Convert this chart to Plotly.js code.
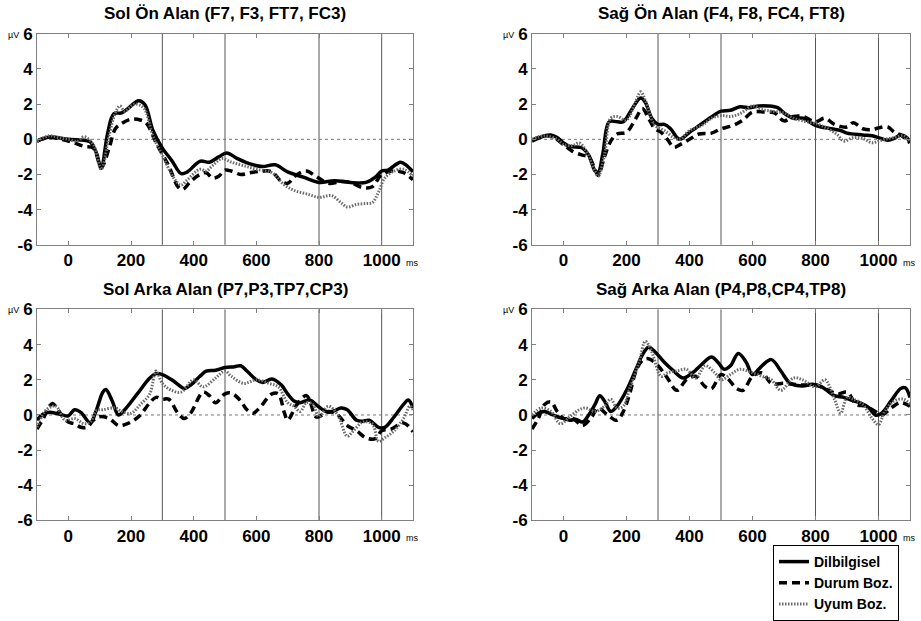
<!DOCTYPE html>
<html>
<head>
<meta charset="utf-8">
<script src="https://cdn.plot.ly/plotly-3.0.1.min.js"></script>
<style>html,body{margin:0;padding:0;background:#fff;}#chart{width:921px;height:621px;}</style>
</head>
<body>
<div id="chart"></div>
<script>
// ---- Data (ms, µV) ----
const seriesNames = ["Dilbilgisel", "Durum Boz.", "Uyum Boz."];
const panelTitles = ["Sol Ön Alan (F7, F3, FT7, FC3)", "Sağ Ön Alan (F4, F8, FC4, FT8)",
                     "Sol Arka Alan (P7,P3,TP7,CP3)", "Sağ Arka Alan (P4,P8,CP4,TP8)"];
const xTickVals = [0, 200, 400, 600, 800, 1000];
const xTickText = ["0", "200", "400", "600", "800", "1000"];
const yTickVals = [-6, -4, -2, 0, 2, 4, 6];
const yTickText = ["-6", "-4", "-2", "0", "2", "4", "6"];
const markerTimes = [300, 500, 800, 1000];

// Panel 1: Sol Ön Alan
const p1SolidT = [-100,-60,0,50,70,90,105,125,145,170,190,225,245,270,300,330,360,380,420,450,480,505,540,580,620,660,700,750,800,850,900,950,980,1000,1020,1060,1080,1100];
const p1SolidV = [-0.1,0.13,0,-0.05,-0.15,-0.8,-1.65,0.3,1.45,1.5,1.75,2.2,1.95,0.5,-0.5,-1.2,-1.95,-1.85,-1.25,-1.3,-1.0,-0.78,-1.1,-1.4,-1.55,-1.45,-1.85,-2.15,-2.45,-2.35,-2.45,-2.45,-2.15,-1.8,-1.75,-1.3,-1.5,-1.85];
const p1DashT = [-100,-60,0,50,80,105,130,150,170,200,230,250,280,320,350,365,390,420,440,460,480,500,520,550,580,620,650,680,700,730,760,790,830,870,900,940,970,1000,1040,1070,1100];
const p1DashV = [-0.1,0.1,-0.1,-0.4,-0.5,-1.6,-0.5,0.6,0.9,1.15,1.1,0.9,-0.2,-1.5,-2.7,-2.85,-2.4,-2.0,-1.9,-2.2,-2.1,-1.75,-1.8,-2.0,-1.9,-1.8,-1.85,-2.4,-2.5,-2.0,-1.8,-2.1,-2.5,-2.4,-2.45,-2.75,-2.7,-2.0,-1.8,-1.9,-2.3];
const p1DotT = [-100,-60,-20,0,30,50,80,105,130,150,165,180,210,240,270,300,340,360,380,420,440,460,490,520,560,600,650,690,720,760,800,840,870,890,920,950,970,990,1010,1040,1070,1100];
const p1DotV = [-0.1,0.2,0.05,0,-0.1,0.15,-0.3,-1.7,0.2,1.5,1.9,1.6,2.0,1.8,0.2,-0.9,-2.3,-2.6,-2.3,-1.7,-1.8,-1.5,-1.1,-1.3,-1.5,-1.7,-1.9,-2.6,-2.9,-3.1,-3.3,-3.2,-3.6,-3.85,-3.7,-3.65,-3.6,-3.0,-2.2,-1.8,-1.7,-2.1];

// Panel 2: Sağ Ön Alan
const p2SolidT = [-100,-60,-40,-20,0,20,50,60,80,100,110,125,145,170,190,220,245,260,280,300,320,340,360,370,400,440,480,500,530,560,590,620,650,680,700,730,760,800,850,880,900,950,980,1000,1030,1050,1070,1090,1100];
const p2SolidV = [-0.1,0.2,0.25,0.1,-0.2,-0.4,-0.45,-0.5,-0.9,-1.8,-1.9,-0.8,1.0,1.0,1.0,1.8,2.35,2.1,1.2,0.85,0.85,0.6,0.1,0.0,0.4,0.9,1.4,1.6,1.65,1.85,1.8,1.9,1.9,1.8,1.5,1.2,1.2,0.8,0.6,0.5,0.35,0.25,0.2,0.1,-0.05,0.05,0.25,0.1,-0.2];
const p2DashT = [-100,-60,-30,0,30,60,80,100,110,130,150,170,200,230,250,270,290,310,330,350,370,400,430,470,500,540,570,600,640,670,700,730,760,800,830,860,900,920,950,980,1000,1030,1050,1070,1100];
const p2DashV = [-0.05,0.2,0.1,-0.3,-0.7,-0.9,-1.0,-1.7,-2.05,-1.0,-0.1,0.3,0.4,1.2,1.75,1.2,0.6,0.4,0.0,-0.45,-0.3,0.0,0.3,0.35,0.6,0.8,1.1,1.55,1.55,1.5,1.05,1.3,1.3,1.0,1.2,0.85,0.7,0.95,0.6,0.55,0.65,0.7,0.4,0.25,-0.2];
const p2DotT = [-100,-60,-20,0,30,50,70,100,110,130,150,170,200,230,245,260,290,320,350,370,400,440,470,500,530,560,600,630,660,700,730,760,800,840,870,890,920,950,980,1000,1020,1050,1080,1100];
const p2DotV = [0.0,0.2,0.0,-0.3,-0.35,-0.2,-0.6,-1.8,-2.1,-0.9,1.2,1.3,1.1,2.2,2.7,2.2,0.8,0.5,0.1,0.0,0.5,0.8,1.2,1.35,1.3,1.45,1.9,1.7,1.6,1.5,1.2,1.05,0.9,0.6,0.25,-0.1,0.1,0.05,-0.2,-0.1,0.0,0.1,0.2,-0.1];

// Panel 3: Sol Arka Alan
const p3SolidT = [-100,-80,-60,-40,-20,0,20,40,70,90,110,120,140,160,180,220,260,280,300,330,360,370,390,420,440,470,500,530,550,570,600,620,650,680,700,720,740,770,800,830,850,870,890,920,940,960,990,1010,1040,1070,1085,1100];
const p3SolidV = [-0.3,0.05,0.15,0.1,0.0,-0.05,0.3,0.15,-0.45,0.3,1.3,1.45,0.8,0.0,0.3,1.2,2.1,2.35,2.3,2.0,1.6,1.5,1.7,2.2,2.5,2.55,2.7,2.75,2.8,2.5,2.0,1.85,2.05,1.7,1.2,0.8,0.7,0.85,0.45,0.15,0.25,0.4,0.3,-0.3,-0.35,-0.3,-0.7,-0.7,-0.1,0.6,0.85,0.4];
const p3DashT = [-100,-80,-60,-50,-30,0,20,40,60,80,100,130,160,180,200,230,260,280,300,320,350,370,390,430,450,470,500,520,550,570,590,610,650,670,690,700,730,760,790,800,830,860,890,920,950,980,1000,1030,1070,1100];
const p3DashV = [-0.8,-0.2,0.5,0.65,0.2,-0.4,-0.5,-0.7,-0.7,-0.3,-0.1,-0.2,-0.6,-0.55,-0.4,0.0,0.7,1.0,0.9,0.9,0.1,-0.2,0.1,1.3,1.1,0.7,1.2,1.25,0.8,0.3,0.1,0.4,1.2,1.2,0.1,-0.3,0.6,1.1,-0.1,-0.1,0.2,0.0,-0.6,-0.9,-1.3,-1.35,-0.9,-0.8,-0.45,-0.95];
const p3DotT = [-100,-70,-40,-10,20,50,70,90,110,150,170,200,230,260,280,300,330,360,400,430,470,500,520,560,600,640,670,700,720,740,760,780,800,830,860,890,910,940,970,990,1010,1040,1070,1090,1100];
const p3DotV = [-0.7,0.3,0.5,-0.3,-0.2,-0.5,-0.4,0.25,0.3,0.4,0.2,0.1,0.6,1.2,2.5,1.8,1.4,1.3,2.0,1.6,2.1,2.5,2.2,1.8,2.0,1.8,1.6,0.7,0.5,0.2,0.7,0.6,-0.1,0.5,0.0,-1.2,-0.9,-0.4,-0.5,-1.5,-1.3,-0.9,-0.2,0.5,0.3];

// Panel 4: Sağ Arka Alan
const p4SolidT = [-100,-80,-60,-40,-20,0,20,40,60,80,100,115,130,150,170,200,230,250,270,290,320,350,380,410,440,470,490,510,530,555,580,600,630,660,690,720,760,790,820,860,890,920,940,970,990,1010,1040,1070,1085,1100];
const p4SolidV = [-0.2,0.1,0.2,0.05,-0.1,-0.2,-0.3,-0.25,-0.4,0.0,0.6,1.1,0.8,0.2,0.5,1.4,2.6,3.4,3.85,3.6,3.0,2.5,2.1,2.4,2.9,3.3,3.0,2.6,2.8,3.5,3.0,2.3,2.8,3.15,2.5,1.8,1.65,1.75,1.6,1.1,1.0,0.8,0.7,0.4,0.0,0.1,0.8,1.5,1.55,1.0];
const p4DashT = [-100,-80,-60,-40,-20,0,30,60,90,110,140,170,190,210,230,250,270,300,330,360,390,420,450,470,500,520,550,570,600,630,660,700,730,760,800,830,870,900,930,960,990,1010,1040,1070,1100];
const p4DashV = [-0.8,-0.2,0.6,0.75,0.2,-0.2,-0.2,-0.6,-0.1,0.4,0.0,-0.3,0.2,1.2,2.5,3.1,3.2,2.8,2.1,1.4,2.0,2.2,1.6,1.5,2.3,2.1,1.5,1.4,2.2,2.4,1.8,1.8,1.75,1.7,1.7,1.5,1.2,1.3,0.6,0.5,0.2,0.0,0.4,0.7,0.5];
const p4DotT = [-100,-70,-40,-10,20,50,70,100,130,150,170,190,210,240,260,280,310,330,360,390,420,450,480,500,530,560,600,630,660,690,730,760,800,830,860,880,900,920,950,980,1000,1020,1050,1080,1100];
const p4DotV = [0.0,0.4,0.2,-0.5,-0.1,0.3,0.4,0.2,0.5,0.9,0.4,0.5,1.5,3.0,4.2,3.6,2.2,2.4,2.5,2.6,2.1,2.8,2.4,2.0,2.3,2.6,2.4,2.2,2.0,1.4,2.1,2.0,1.6,2.0,0.9,0.1,1.0,0.9,0.6,-0.2,-0.55,0.2,0.8,0.9,0.6];

const panels = [
  [[p1SolidT,p1SolidV],[p1DashT,p1DashV],[p1DotT,p1DotV]],
  [[p2SolidT,p2SolidV],[p2DashT,p2DashV],[p2DotT,p2DotV]],
  [[p3SolidT,p3SolidV],[p3DashT,p3DashV],[p3DotT,p3DotV]],
  [[p4SolidT,p4SolidV],[p4DashT,p4DashV],[p4DotT,p4DotV]]
];

// ---- Styles / layout ----
const W = 921, H = 621;
const lineStyles = [
  {color: "#000000", width: 3.5, dash: "solid"},
  {color: "#000000", width: 3.5, dash: "8px,5px"},
  {color: "#6a6a6a", width: 3, dash: "1.5px,1.5px"}
];
// pixel boxes [left, right, top, bottom]
const boxes = [[37, 413, 34, 246], [532, 910, 34, 246], [37, 413, 311, 523], [532, 910, 311, 523]];

const traces = [];
const layout = {
  width: W, height: H,
  margin: {l: 0, r: 0, t: 0, b: 0},
  paper_bgcolor: "#ffffff", plot_bgcolor: "#ffffff",
  font: {family: "Liberation Sans, Arial, sans-serif", color: "#000"},
  showlegend: true,
  legend: {
    x: 773 / W, y: 1 - 548 / H, xanchor: "left", yanchor: "top",
    bordercolor: "#000", borderwidth: 1, bgcolor: "#fff",
    font: {size: 14, weight: "bold", family: "Liberation Sans, Arial, sans-serif"},
    tracegroupgap: 0, itemwidth: 30, entrywidth: 96, entrywidthmode: "pixels"
  },
  shapes: [], annotations: []
};

boxes.forEach((b, i) => {
  const n = i + 1;
  const xa = "xaxis" + (n === 1 ? "" : n), ya = "yaxis" + (n === 1 ? "" : n);
  const xr = "x" + (n === 1 ? "" : n), yr = "y" + (n === 1 ? "" : n);
  layout[xa] = {
    domain: [b[0] / W, b[1] / W], anchor: yr, range: [-100, 1100],
    tickvals: xTickVals, ticktext: xTickText, ticks: "inside", ticklen: 4, tickcolor: "#808080",
    showline: true, linecolor: "#808080", linewidth: 1, mirror: "allticks",
    showgrid: false, zeroline: false,
    tickfont: {size: 17, weight: "bold", color: "#000"}
  };
  layout[ya] = {
    domain: [1 - b[3] / H, 1 - b[2] / H], anchor: xr, range: [-6, 6],
    tickvals: yTickVals, ticktext: yTickText, ticks: "inside", ticklen: 4, tickcolor: "#808080",
    showline: true, linecolor: "#808080", linewidth: 1, mirror: "allticks",
    showgrid: false, zeroline: false,
    tickfont: {size: 17, weight: "bold", color: "#000"}
  };
  markerTimes.forEach(t => layout.shapes.push({
    type: "line", xref: xr, yref: yr + " domain", x0: t, x1: t, y0: 0, y1: 1,
    line: {color: "#555", width: 1}, layer: "below"
  }));
  layout.shapes.push({
    type: "line", xref: xr + " domain", yref: yr, x0: 0, x1: 1, y0: 0, y1: 0,
    line: {color: "#777", width: 1, dash: "dot"}, layer: "below"
  });
  layout.annotations.push({
    text: panelTitles[i], xref: "paper", yref: "paper",
    x: (b[0] + b[1]) / 2 / W, y: 1 - (b[2] - 20) / H, xanchor: "center", yanchor: "middle",
    showarrow: false, font: {size: 17, weight: "bold", color: "#000"}
  });
  layout.annotations.push({
    text: "µV", xref: "paper", yref: "paper",
    x: (b[0] - 16) / W, y: 1 - (b[2] + 1) / H, xanchor: "right", yanchor: "middle",
    showarrow: false, font: {size: 9, color: "#000"}
  });
  layout.annotations.push({
    text: "ms", xref: "paper", yref: "paper",
    x: (b[1] - 9) / W, y: 1 - (b[3] + 18) / H, xanchor: "left", yanchor: "middle",
    showarrow: false, font: {size: 9, color: "#000"}
  });
  panels[i].forEach((s, k) => {
    traces.push({
      x: s[0], y: s[1], xaxis: xr, yaxis: yr, type: "scatter", mode: "lines",
      name: seriesNames[k], showlegend: i === 0, legendgroup: seriesNames[k],
      line: Object.assign({shape: "spline", smoothing: 1}, lineStyles[k]),
      hoverinfo: "skip"
    });
  });
});

Plotly.newPlot("chart", traces, layout, {staticPlot: true, displayModeBar: false});
</script>
</body>
</html>
